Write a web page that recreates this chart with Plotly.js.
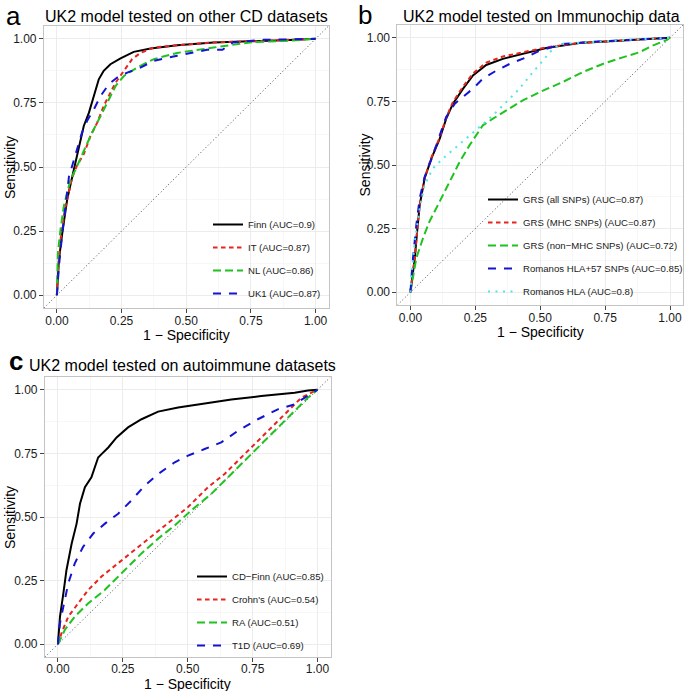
<!DOCTYPE html>
<html>
<head>
<meta charset="utf-8">
<script src="https://cdn.plot.ly/plotly-3.0.1.min.js"></script>
<style>html,body{margin:0;padding:0;background:#fff;}#chart{width:688px;height:691px;}</style>
</head>
<body>
<div id="chart"></div>
<script>
// ---- tick labels ----
const tickVals = [0, 0.25, 0.5, 0.75, 1];
const tickLabels = ["0.00", "0.25", "0.50", "0.75", "1.00"];
const minorVals = [0.125, 0.375, 0.625, 0.875];
const diagonal = [-0.05, 1.05];

// ---- panel a: UK2 model tested on other CD datasets ----
const aNames = ["Finn (AUC=0.9)", "IT (AUC=0.87)", "NL (AUC=0.86)", "UK1 (AUC=0.87)"];
const aFinnX = [0, 0.008, 0.021, 0.040, 0.066, 0.085, 0.104, 0.124, 0.143, 0.162, 0.181, 0.207, 0.246, 0.297, 0.362, 0.465, 0.606, 0.75, 0.9, 1];
const aFinnY = [0, 0.139, 0.243, 0.374, 0.491, 0.582, 0.660, 0.712, 0.777, 0.842, 0.875, 0.901, 0.924, 0.949, 0.962, 0.975, 0.986, 0.990, 0.995, 1];
const aITX = [0, 0.005, 0.014, 0.034, 0.059, 0.077, 0.104, 0.130, 0.156, 0.181, 0.207, 0.227, 0.259, 0.291, 0.323, 0.375, 0.465, 0.606, 0.75, 0.9, 1];
const aITY = [0, 0.10, 0.217, 0.348, 0.458, 0.504, 0.550, 0.621, 0.673, 0.738, 0.790, 0.829, 0.875, 0.921, 0.945, 0.966, 0.975, 0.986, 0.990, 0.995, 1];
const aNLX = [0, 0.004, 0.014, 0.027, 0.053, 0.073, 0.104, 0.136, 0.169, 0.201, 0.227, 0.259, 0.310, 0.375, 0.465, 0.606, 0.745, 0.9, 1];
const aNLY = [0, 0.165, 0.256, 0.348, 0.452, 0.491, 0.5625, 0.634, 0.699, 0.764, 0.816, 0.855, 0.888, 0.921, 0.945, 0.966, 0.986, 0.993, 1];
const aUK1X = [0, 0.008, 0.021, 0.034, 0.047, 0.059, 0.077, 0.097, 0.117, 0.143, 0.169, 0.201, 0.233, 0.272, 0.323, 0.375, 0.465, 0.58, 0.64, 0.68, 0.8, 1];
const aUK1Y = [0, 0.113, 0.243, 0.361, 0.465, 0.504, 0.569, 0.634, 0.680, 0.725, 0.777, 0.823, 0.849, 0.868, 0.888, 0.914, 0.934, 0.957, 0.957, 0.986, 0.996, 1];

// ---- panel b: UK2 model tested on Immunochip data ----
const bNames = ["GRS (all SNPs) (AUC=0.87)", "GRS (MHC SNPs) (AUC=0.87)", "GRS (non\u2212MHC SNPs) (AUC=0.72)", "Romanos HLA+57 SNPs (AUC=0.85)", "Romanos HLA (AUC=0.8)"];
const bAllX = [0, 0.017, 0.026, 0.036, 0.055, 0.081, 0.113, 0.138, 0.164, 0.203, 0.241, 0.292, 0.356, 0.433, 0.523, 0.651, 0.844, 1];
const bAllY = [0, 0.135, 0.240, 0.344, 0.448, 0.526, 0.604, 0.682, 0.741, 0.800, 0.852, 0.893, 0.917, 0.936, 0.960, 0.979, 0.992, 1];
const bMHCX = [0, 0.017, 0.026, 0.036, 0.055, 0.081, 0.113, 0.138, 0.164, 0.203, 0.241, 0.292, 0.356, 0.433, 0.523, 0.651, 0.844, 1];
const bMHCY = [0, 0.135, 0.240, 0.344, 0.450, 0.530, 0.608, 0.686, 0.748, 0.808, 0.860, 0.902, 0.926, 0.942, 0.962, 0.979, 0.992, 1];
const bNonX = [0, 0.010, 0.023, 0.049, 0.074, 0.113, 0.151, 0.190, 0.228, 0.279, 0.318, 0.369, 0.433, 0.497, 0.587, 0.664, 0.741, 0.818, 0.882, 0.933, 0.985, 1];
const bNonY = [0, 0.057, 0.135, 0.214, 0.279, 0.357, 0.435, 0.513, 0.578, 0.656, 0.682, 0.715, 0.754, 0.786, 0.826, 0.865, 0.897, 0.923, 0.943, 0.969, 0.99, 1];
const bHLA57X = [0, 0.010, 0.023, 0.036, 0.055, 0.087, 0.113, 0.138, 0.171, 0.203, 0.241, 0.279, 0.331, 0.382, 0.446, 0.497, 0.587, 0.70, 0.844, 1];
const bHLA57Y = [0, 0.135, 0.266, 0.370, 0.454, 0.539, 0.617, 0.689, 0.741, 0.767, 0.800, 0.839, 0.871, 0.897, 0.923, 0.949, 0.975, 0.984, 0.992, 1];
const bHLAX = [0, 0.004, 0.017, 0.036, 0.055, 0.087, 0.126, 0.171, 0.215, 0.260, 0.318, 0.369, 0.420, 0.472, 0.510, 0.549, 0.574, 0.70, 0.844, 1];
const bHLAY = [0, 0.070, 0.200, 0.331, 0.422, 0.487, 0.526, 0.565, 0.604, 0.643, 0.695, 0.747, 0.800, 0.865, 0.910, 0.956, 0.975, 0.984, 0.992, 1];

// ---- panel c: UK2 model tested on autoimmune datasets ----
const cNames = ["CD\u2212Finn (AUC=0.85)", "Crohn's (AUC=0.54)", "RA (AUC=0.51)", "T1D (AUC=0.69)"];
const cFinnX = [0, 0.008, 0.021, 0.033, 0.053, 0.072, 0.085, 0.104, 0.129, 0.142, 0.155, 0.168, 0.194, 0.226, 0.270, 0.322, 0.386, 0.463, 0.565, 0.668, 0.783, 0.912, 0.963, 1];
const cFinnY = [0, 0.109, 0.200, 0.292, 0.396, 0.474, 0.552, 0.617, 0.656, 0.695, 0.734, 0.747, 0.773, 0.8125, 0.852, 0.884, 0.914, 0.930, 0.945, 0.962, 0.975, 0.988, 0.997, 1];
const cCrohnX = [0, 0.014, 0.040, 0.078, 0.117, 0.168, 0.232, 0.296, 0.373, 0.437, 0.501, 0.578, 0.642, 0.719, 0.796, 0.873, 0.938, 1];
const cCrohnY = [0, 0.044, 0.109, 0.161, 0.214, 0.266, 0.318, 0.370, 0.435, 0.487, 0.539, 0.617, 0.669, 0.747, 0.826, 0.904, 0.969, 1];
const cRAX = [0, 0.027, 0.065, 0.117, 0.181, 0.245, 0.322, 0.386, 0.45, 0.514, 0.591, 0.668, 0.745, 0.822, 0.899, 0.963, 1];
const cRAY = [0, 0.057, 0.109, 0.161, 0.214, 0.279, 0.357, 0.415, 0.467, 0.526, 0.591, 0.669, 0.747, 0.826, 0.904, 0.969, 1];
const cT1DX = [0, 0.008, 0.021, 0.040, 0.065, 0.097, 0.136, 0.181, 0.232, 0.283, 0.335, 0.386, 0.45, 0.501, 0.565, 0.629, 0.694, 0.770, 0.847, 0.912, 0.951, 1];
const cT1DY = [0, 0.083, 0.148, 0.240, 0.318, 0.383, 0.435, 0.474, 0.513, 0.565, 0.624, 0.669, 0.715, 0.741, 0.767, 0.793, 0.839, 0.884, 0.923, 0.943, 0.969, 1];

// ---- styles ----
const W = 688, H = 691;
const FONT = "Liberation Sans, Arial, Helvetica, sans-serif";
const COL = {black: "#000000", red: "#E8241E", green: "#1FC21F", blue: "#1414D2", cyan: "#4FE6E6"};
const DASH = {solid: "solid", red: "4.5px,3.5px", green: "8px,4px", blue: "8px,8px", cyan: "2px,5.5px"};

function curve(x, y, name, color, dash, xa, ya, leg, grp) {
  return {type: "scatter", mode: "lines", x: x, y: y, name: name, xaxis: xa, yaxis: ya,
    legend: leg, legendgroup: grp, line: {color: color, width: 2, dash: dash}, hoverinfo: "skip"};
}
function diag(xa, ya) {
  return {type: "scatter", mode: "lines", x: diagonal, y: diagonal, xaxis: xa, yaxis: ya, showlegend: false,
    line: {color: "#333333", width: 0.9, dash: "1px,2.5px"}, hoverinfo: "skip"};
}

const traces = [
  diag("x", "y"),
  curve(aFinnX, aFinnY, aNames[0], COL.black, DASH.solid, "x", "y", "legend", "a1"),
  curve(aITX, aITY, aNames[1], COL.red, DASH.red, "x", "y", "legend", "a2"),
  curve(aNLX, aNLY, aNames[2], COL.green, DASH.green, "x", "y", "legend", "a3"),
  curve(aUK1X, aUK1Y, aNames[3], COL.blue, DASH.blue, "x", "y", "legend", "a4"),
  diag("x2", "y2"),
  curve(bAllX, bAllY, bNames[0], COL.black, DASH.solid, "x2", "y2", "legend2", "b1"),
  curve(bMHCX, bMHCY, bNames[1], COL.red, DASH.red, "x2", "y2", "legend2", "b2"),
  curve(bNonX, bNonY, bNames[2], COL.green, DASH.green, "x2", "y2", "legend2", "b3"),
  curve(bHLA57X, bHLA57Y, bNames[3], COL.blue, DASH.blue, "x2", "y2", "legend2", "b4"),
  curve(bHLAX, bHLAY, bNames[4], COL.cyan, DASH.cyan, "x2", "y2", "legend2", "b5"),
  diag("x3", "y3"),
  curve(cFinnX, cFinnY, cNames[0], COL.black, DASH.solid, "x3", "y3", "legend3", "c1"),
  curve(cCrohnX, cCrohnY, cNames[1], COL.red, DASH.red, "x3", "y3", "legend3", "c2"),
  curve(cRAX, cRAY, cNames[2], COL.green, DASH.green, "x3", "y3", "legend3", "c3"),
  curve(cT1DX, cT1DY, cNames[3], COL.blue, DASH.blue, "x3", "y3", "legend3", "c4")
];

function axis(p0, p1, isX, anchor, standoff) {
  const domain = isX ? [p0 / W, p1 / W] : [1 - p1 / H, 1 - p0 / H];
  return {domain: domain, anchor: anchor, range: [-0.05, 1.05], fixedrange: true,
    tickmode: "array", tickvals: tickVals, ticktext: tickLabels,
    ticks: "outside", ticklen: 4, tickwidth: 1, tickcolor: "#444444",
    ticklabelstandoff: standoff || 0,
    tickfont: {family: FONT, size: 12, color: "#1a1a1a"},
    showline: true, mirror: true, linecolor: "#c4c4c4", linewidth: 1,
    showgrid: true, gridcolor: "#ececec", gridwidth: 1, zeroline: false,
    minor: {tickmode: "array", tickvals: minorVals, showgrid: true, gridcolor: "#f7f7f7", gridwidth: 1, ticks: ""}};
}

function legendAt(textX, topY) {
  return {x: (textX - 40) / W, y: 1 - topY / H, xanchor: "left", yanchor: "top",
    bgcolor: "rgba(0,0,0,0)", borderwidth: 0, tracegroupgap: 4, traceorder: "grouped",
    font: {family: FONT, size: 9.6, color: "#1a1a1a"}};
}

function txt(text, px, py, size, opts) {
  return Object.assign({text: text, xref: "paper", yref: "paper", x: px / W, y: 1 - py / H,
    xanchor: "center", yanchor: "middle", showarrow: false, borderpad: 0,
    font: {family: FONT, size: size, color: "#000"}}, opts || {});
}

const layout = {
  width: W, height: H, margin: {l: 0, r: 0, t: 0, b: 0},
  paper_bgcolor: "#ffffff", plot_bgcolor: "#ffffff",
  xaxis: axis(44, 329, true, "y", -2), yaxis: axis(26, 308, false, "x"),
  xaxis2: axis(398, 684, true, "y2", -2), yaxis2: axis(25, 305, false, "x2"),
  xaxis3: axis(45, 331, true, "y3", -3), yaxis3: axis(377, 657, false, "x3"),
  legend: legendAt(248, 210),
  legend2: legendAt(524, 185),
  legend3: legendAt(232, 562),
  annotations: [
    txt("a", 14, 16, 26),
    txt("UK2 model tested on other CD datasets", 186.5, 17, 16),
    txt("b", 366, 15, 26),
    txt("UK2 model tested on Immunochip data", 542.5, 17, 16),
    txt("<b>c</b>", 16, 361, 26),
    txt("UK2 model tested on autoimmune datasets", 183, 365, 16),
    txt("Sensitivity", 10, 167, 14, {textangle: -90}),
    txt("Sensitivity", 366, 165, 14, {textangle: -90}),
    txt("Sensitivity", 10, 517, 14, {textangle: -90}),
    txt("1 \u2212 Specificity", 186.5, 335, 14),
    txt("1 \u2212 Specificity", 541, 332, 14),
    txt("1 \u2212 Specificity", 188, 684, 14)
  ],
  showlegend: true
};

Plotly.newPlot("chart", traces, layout, {displayModeBar: false, staticPlot: true});
</script>
</body>
</html>
